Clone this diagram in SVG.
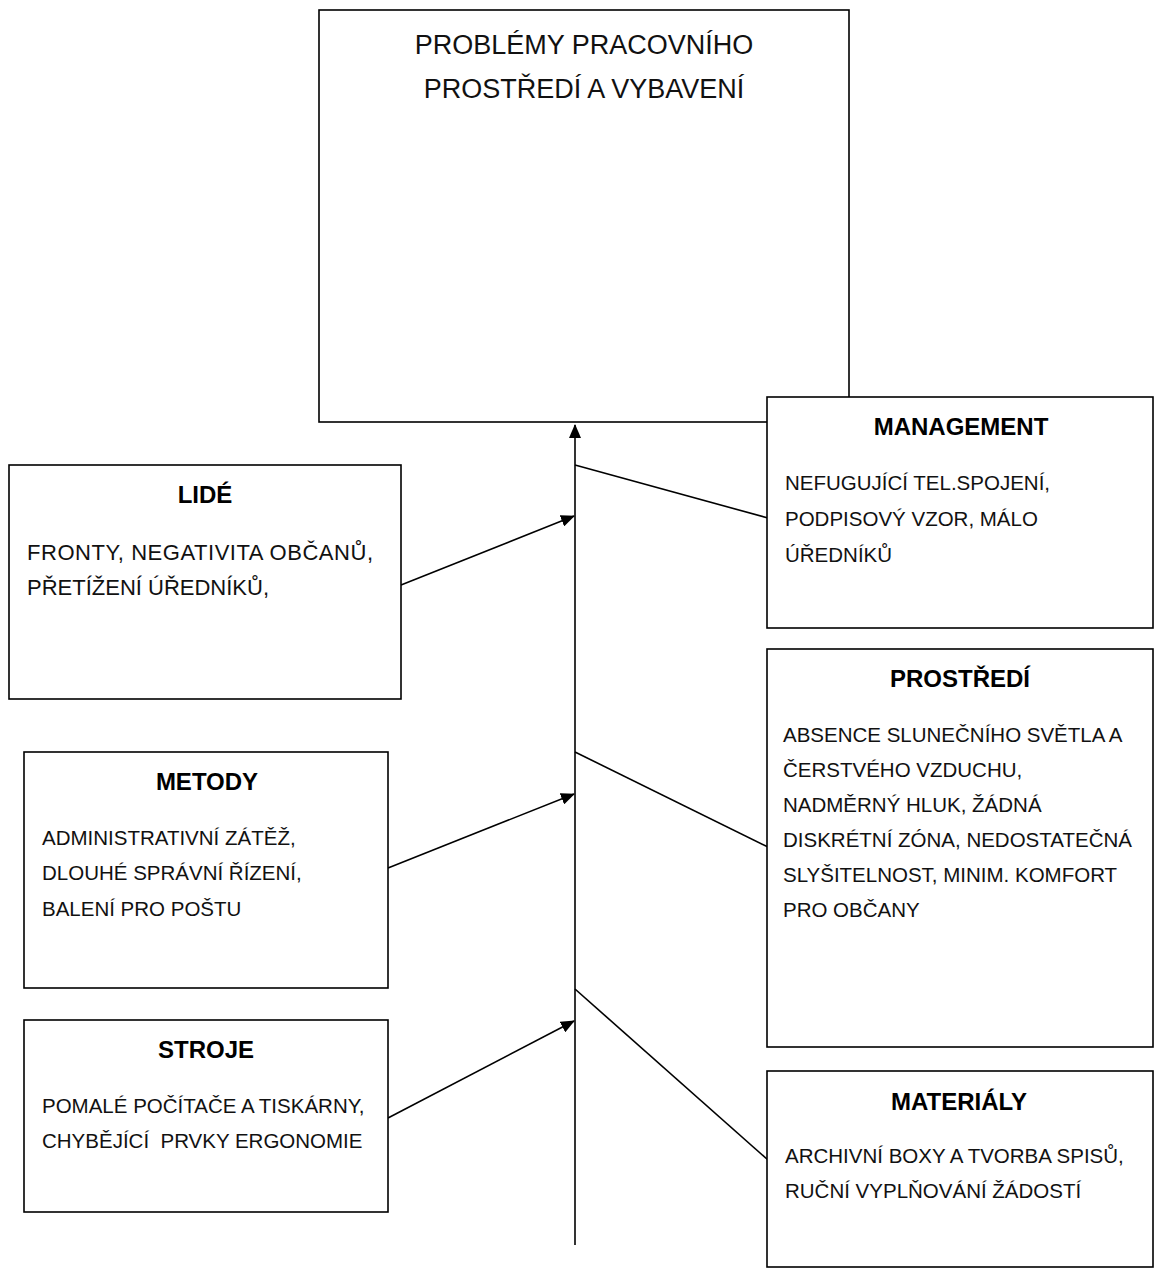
<svg xmlns="http://www.w3.org/2000/svg" width="1154" height="1274" viewBox="0 0 1154 1274">
<style>
.box{fill:#fff;stroke:#000;stroke-width:1.6}
.ttl{font-family:"Liberation Sans",Arial,sans-serif;font-size:27px;fill:#111;text-anchor:middle}
.hd{font-family:"Liberation Sans",Arial,sans-serif;font-size:24px;font-weight:bold;fill:#000;text-anchor:middle}
.bd{font-family:"Liberation Sans",Arial,sans-serif;font-size:20.5px;fill:#111;white-space:pre}
.bdl{font-size:22px}
.ln{stroke:#000;stroke-width:1.6;fill:none}
</style>
<defs>
<marker id="ah" markerUnits="userSpaceOnUse" markerWidth="14" markerHeight="12" refX="13" refY="6" orient="auto">
<path d="M0,0 L14,6 L0,12 Z" fill="#000"/>
</marker>
</defs>
<rect width="1154" height="1274" fill="#fff"/>
<g id="connectors">
<line class="ln" x1="575" y1="1245" x2="575" y2="425" marker-end="url(#ah)"/>
<line class="ln" x1="401" y1="585" x2="574" y2="516" marker-end="url(#ah)"/>
<line class="ln" x1="388" y1="868" x2="574" y2="794" marker-end="url(#ah)"/>
<line class="ln" x1="388" y1="1118" x2="574" y2="1021" marker-end="url(#ah)"/>
<line class="ln" x1="575" y1="465" x2="768" y2="518"/>
<line class="ln" x1="575" y1="752" x2="768" y2="847"/>
<line class="ln" x1="575" y1="989" x2="768" y2="1160"/>
</g>
<g id="main">
<rect class="box" x="319" y="10" width="530" height="412"/>
<text class="ttl" x="584" y="54">PROBLÉMY PRACOVNÍHO</text>
<text class="ttl" x="584" y="98">PROSTŘEDÍ A VYBAVENÍ</text>
</g>
<g id="lide">
<rect class="box" x="9" y="465" width="392" height="234"/>
<text class="hd" x="205" y="503">LIDÉ</text>
<text class="bd bdl" x="27" y="560" textLength="346" lengthAdjust="spacing">FRONTY, NEGATIVITA OBČANŮ,</text>
<text class="bd bdl" x="27" y="595">PŘETÍŽENÍ ÚŘEDNÍKŮ,</text>
</g>
<g id="management">
<rect class="box" x="767" y="397" width="386" height="231"/>
<text class="hd" x="961" y="435">MANAGEMENT</text>
<text class="bd" x="785" y="490">NEFUGUJÍCÍ TEL.SPOJENÍ,</text>
<text class="bd" x="785" y="526">PODPISOVÝ VZOR, MÁLO</text>
<text class="bd" x="785" y="562">ÚŘEDNÍKŮ</text>
</g>
<g id="prostredi">
<rect class="box" x="767" y="649" width="386" height="398"/>
<text class="hd" x="960" y="687">PROSTŘEDÍ</text>
<text class="bd" x="783" y="742">ABSENCE SLUNEČNÍHO SVĚTLA A</text>
<text class="bd" x="783" y="777">ČERSTVÉHO VZDUCHU,</text>
<text class="bd" x="783" y="812">NADMĚRNÝ HLUK, ŽÁDNÁ</text>
<text class="bd" x="783" y="847">DISKRÉTNÍ ZÓNA, NEDOSTATEČNÁ</text>
<text class="bd" x="783" y="882">SLYŠITELNOST, MINIM. KOMFORT</text>
<text class="bd" x="783" y="917">PRO OBČANY</text>
</g>
<g id="metody">
<rect class="box" x="24" y="752" width="364" height="236"/>
<text class="hd" x="207" y="790">METODY</text>
<text class="bd" x="42" y="845">ADMINISTRATIVNÍ ZÁTĚŽ,</text>
<text class="bd" x="42" y="880">DLOUHÉ SPRÁVNÍ ŘÍZENÍ,</text>
<text class="bd" x="42" y="916">BALENÍ PRO POŠTU</text>
</g>
<g id="stroje">
<rect class="box" x="24" y="1020" width="364" height="192"/>
<text class="hd" x="206" y="1058">STROJE</text>
<text class="bd" x="42" y="1113">POMALÉ POČÍTAČE A TISKÁRNY,</text>
<text class="bd" x="42" y="1148">CHYBĚJÍCÍ  PRVKY ERGONOMIE</text>
</g>
<g id="materialy">
<rect class="box" x="767" y="1071" width="386" height="196"/>
<text class="hd" x="959" y="1110">MATERIÁLY</text>
<text class="bd" x="785" y="1163">ARCHIVNÍ BOXY A TVORBA SPISŮ,</text>
<text class="bd" x="785" y="1198">RUČNÍ VYPLŇOVÁNÍ ŽÁDOSTÍ</text>
</g>
</svg>
